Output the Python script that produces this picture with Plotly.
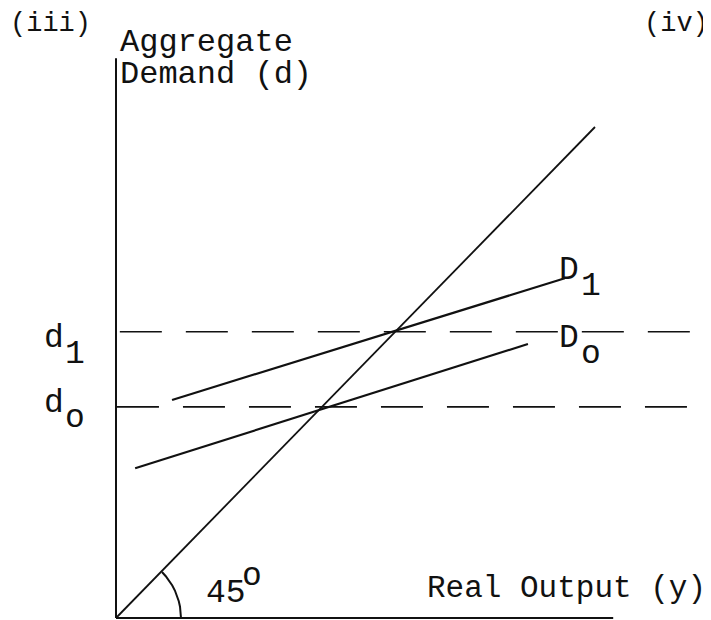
import math
import plotly.graph_objects as go

# ---- data (model units) ----
line45_x = [0, 100]
line45_y = [0, 100]
D0_x = [4.0, 86.0]
D0_y = [30.5, 55.8]
D1_x = [11.7, 93.7]
D1_y = [44.4, 69.2]
d0_level = 43.0
d1_level = 58.3
d0_span = [0.2, 121.5]
d1_span = [0.8, 119.8]
yaxis_top = 114.0
xaxis_end = 103.8
arc_deg = [0, 5, 10, 15, 20, 25, 30, 35, 40, 45]

# ---- pixel helpers (page has an 8px body margin) ----
PAD = 8
W, H = 711 - PAD, 620 - PAD
SX, SY = 4.79, 4.91
OX, OY = 116 - PAD, 618 - PAD
xr = [(0 - OX) / SX, (W - OX) / SX]
yr = [(OY - H) / SY, OY / SY]


def fx(x):
    return (x - PAD) / W


def fy(y):
    return 1 - (y - PAD) / H


ink = "#111111"
fig = go.Figure()

# axes
fig.add_trace(go.Scatter(x=[0, 0], y=[0, yaxis_top], mode="lines",
                         line=dict(color=ink, width=2), hoverinfo="skip"))
fig.add_trace(go.Scatter(x=[0, xaxis_end], y=[0, 0], mode="lines",
                         line=dict(color=ink, width=2), hoverinfo="skip"))
# 45 degree line
fig.add_trace(go.Scatter(x=line45_x, y=line45_y, mode="lines",
                         line=dict(color=ink, width=1.8), hoverinfo="skip"))
# demand lines
fig.add_trace(go.Scatter(x=D0_x, y=D0_y, mode="lines",
                         line=dict(color=ink, width=2.2), hoverinfo="skip"))
fig.add_trace(go.Scatter(x=D1_x, y=D1_y, mode="lines",
                         line=dict(color=ink, width=2.2), hoverinfo="skip"))
# dashed levels
fig.add_trace(go.Scatter(x=d1_span, y=[d1_level, d1_level], mode="lines",
                         line=dict(color=ink, width=1.6, dash="42px,24px"), hoverinfo="skip"))
fig.add_trace(go.Scatter(x=d0_span, y=[d0_level, d0_level], mode="lines",
                         line=dict(color=ink, width=1.6, dash="42px,24px"), hoverinfo="skip"))
# angle arc
R = 65
fig.add_trace(go.Scatter(x=[R * math.cos(math.radians(a)) / SX for a in arc_deg],
                         y=[R * math.sin(math.radians(a)) / SY for a in arc_deg],
                         mode="lines", line=dict(color=ink, width=2), hoverinfo="skip"))

FONT = "Liberation Mono, Courier New, monospace"


def label(text, x, y, size=33, xanchor="left"):
    fig.add_annotation(x=fx(x), y=fy(y), xref="paper", yref="paper",
                       text=text, showarrow=False,
                       xanchor=xanchor, yanchor="middle",
                       font=dict(family=FONT, size=size, color=ink))


label("(iii)", 8, 24, size=27)
label("(iv)", 642, 24, size=27)
label("Aggregate", 118, 42, size=32)
label("Demand (d)", 118, 74, size=32)
label("d", 42, 338)
label("1", 63, 354)
label("d", 42, 403)
label("o", 63, 419)
label("D", 557, 270)
label("1", 579, 287)
label("D", 557, 338)
label("o", 579, 354)
label("45", 204, 593)
label("o", 240, 576)
label("Real Output (y)", 425, 588, size=31)

fig.update_layout(
    width=W, height=H,
    margin=dict(l=0, r=0, t=0, b=0),
    paper_bgcolor="white", plot_bgcolor="white",
    showlegend=False,
    xaxis=dict(range=xr, visible=False, fixedrange=True),
    yaxis=dict(range=yr, visible=False, fixedrange=True),
)
fig.write_html("out.html")
